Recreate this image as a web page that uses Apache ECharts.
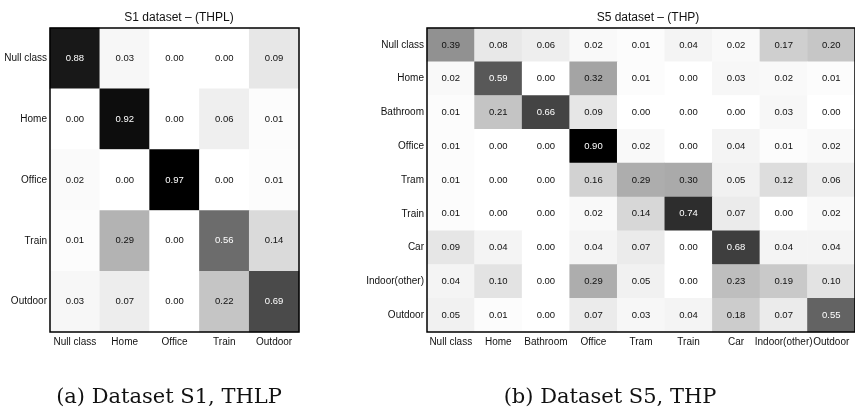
<!DOCTYPE html>
<html><head><meta charset="utf-8">
<script src="https://cdn.jsdelivr.net/npm/echarts@6/dist/echarts.min.js"></script>
<style>html,body{margin:0;padding:0;background:#fff}#c{width:855px;height:408px}</style>
</head><body><div id="c"></div>
<script>
const s1Classes = ['Null class','Home','Office','Train','Outdoor'];
const s1Matrix = [
  [0.88,0.03,0.00,0.00,0.09],
  [0.00,0.92,0.00,0.06,0.01],
  [0.02,0.00,0.97,0.00,0.01],
  [0.01,0.29,0.00,0.56,0.14],
  [0.03,0.07,0.00,0.22,0.69]
];
const s5Classes = ['Null class','Home','Bathroom','Office','Tram','Train','Car','Indoor(other)','Outdoor'];
const s5Matrix = [
  [0.39,0.08,0.06,0.02,0.01,0.04,0.02,0.17,0.20],
  [0.02,0.59,0.00,0.32,0.01,0.00,0.03,0.02,0.01],
  [0.01,0.21,0.66,0.09,0.00,0.00,0.00,0.03,0.00],
  [0.01,0.00,0.00,0.90,0.02,0.00,0.04,0.01,0.02],
  [0.01,0.00,0.00,0.16,0.29,0.30,0.05,0.12,0.06],
  [0.01,0.00,0.00,0.02,0.14,0.74,0.07,0.00,0.02],
  [0.09,0.04,0.00,0.04,0.07,0.00,0.68,0.04,0.04],
  [0.04,0.10,0.00,0.29,0.05,0.00,0.23,0.19,0.10],
  [0.05,0.01,0.00,0.07,0.03,0.04,0.18,0.07,0.55]
];
const titles = ['S1 dataset \u2013 (THPL)','S5 dataset \u2013 (THP)'];
const captions = ['(a) Dataset S1, THLP','(b) Dataset S5, THP'];

function cells(m){
  const max = Math.max(...m.flat());
  const out = [];
  m.forEach((row,i)=>row.forEach((v,j)=>{
    out.push({value:[j,i,v],label:{color: v/max>0.5?'#fff':'#111'}});
  }));
  return out;
}
const sans = 'Liberation Sans, Arial, sans-serif';
const chart = echarts.init(document.getElementById('c'));
function axes(cls, gi){
  return {
    x:{type:'category',data:cls,gridIndex:gi,position:'bottom',
       axisLine:{show:false},axisTick:{show:false},splitLine:{show:false},
       axisLabel:{fontFamily:sans,fontSize:10,color:'#111',margin:5,interval:0}},
    y:{type:'category',data:cls,gridIndex:gi,inverse:true,
       axisLine:{show:false},axisTick:{show:false},splitLine:{show:false},
       axisLabel:{fontFamily:sans,fontSize:10,color:'#111',margin:3,interval:0}}
  };
}
const a0 = axes(s1Classes,0), a1 = axes(s5Classes,1);
chart.setOption({
  animation:false,
  backgroundColor:'#fff',
  title:[
    {text:titles[0],left:174,top:7,textAlign:'center',textStyle:{fontFamily:sans,fontSize:12,fontWeight:'normal',color:'#111'}},
    {text:titles[1],left:643,top:7,textAlign:'center',textStyle:{fontFamily:sans,fontSize:12,fontWeight:'normal',color:'#111'}},
    {text:captions[0],left:164,top:382,textAlign:'center',textStyle:{fontFamily:'DejaVu Serif, serif',fontSize:21,fontWeight:'normal',color:'#111'}},
    {text:captions[1],left:605,top:382,textAlign:'center',textStyle:{fontFamily:'DejaVu Serif, serif',fontSize:21,fontWeight:'normal',color:'#111'}}
  ],
  grid:[
    {left:50,width:249,top:28,height:304,show:true,borderColor:'#000',borderWidth:1.5,backgroundColor:'transparent',z:10},
    {left:427,width:433,top:28,height:304,show:true,borderColor:'#000',borderWidth:1.5,backgroundColor:'transparent',z:10}
  ],
  xAxis:[a0.x,a1.x],
  yAxis:[a0.y,a1.y],
  visualMap:[
    {show:false,seriesIndex:0,dimension:2,min:0,max:Math.max(...s1Matrix.flat()),inRange:{color:['#ffffff','#000000']}},
    {show:false,seriesIndex:1,dimension:2,min:0,max:Math.max(...s5Matrix.flat()),inRange:{color:['#ffffff','#000000']}}
  ],
  series:[
    {type:'heatmap',xAxisIndex:0,yAxisIndex:0,data:cells(s1Matrix),
     label:{show:true,fontFamily:sans,fontSize:9.5,formatter:p=>p.value[2].toFixed(2)},itemStyle:{borderWidth:0}},
    {type:'heatmap',xAxisIndex:1,yAxisIndex:1,data:cells(s5Matrix),
     label:{show:true,fontFamily:sans,fontSize:9.5,formatter:p=>p.value[2].toFixed(2)},itemStyle:{borderWidth:0}}
  ]
});
</script></body></html>
